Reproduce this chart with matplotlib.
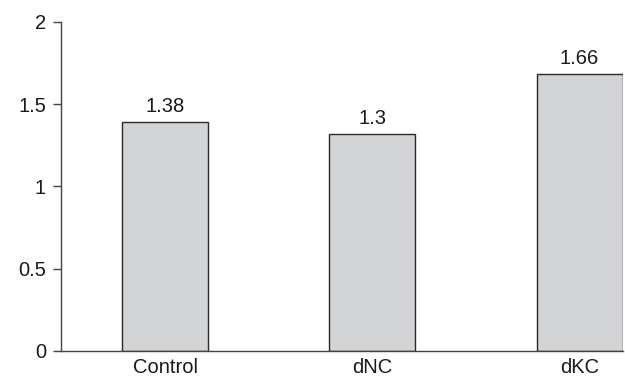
import matplotlib
matplotlib.use("Agg")
import matplotlib.pyplot as plt

categories = ["Control", "dNC", "dKC"]
bar_heights = [1.39, 1.32, 1.685]
value_labels = ["1.38", "1.3", "1.66"]
yticks = [0, 0.5, 1, 1.5, 2]
ytick_labels = ["0", "0.5", "1", "1.5", "2"]

plt.rcParams['font.family'] = ['Liberation Sans', 'DejaVu Sans']
FS = 14.5

fig = plt.figure(figsize=(6.25, 3.77), dpi=100)
ax = fig.add_axes([0.098, 0.069, 0.899, 0.873])

x = range(len(categories))
ax.bar(x, bar_heights, width=0.415, color="#d3d4d6", edgecolor="#2a2a2a", linewidth=1.0, zorder=2)
for xi, h, lab in zip(x, bar_heights, value_labels):
    ax.text(xi, h + 0.035, lab, ha="center", va="bottom", fontsize=FS, color="#1a1a1a")

ax.set_xlim(-0.502, 2.21)
ax.set_ylim(0, 2)
ax.set_yticks(yticks)
ax.set_yticklabels(ytick_labels, fontsize=FS, color="#1a1a1a")
ax.set_xticks(list(x))
ax.set_xticklabels(categories, fontsize=FS, color="#1a1a1a")
ax.tick_params(axis="x", length=0, pad=5)
ax.tick_params(axis="y", length=6, width=1, color="#444444", pad=5)
for s in ["top", "right"]:
    ax.spines[s].set_visible(False)
for s in ["left", "bottom"]:
    ax.spines[s].set_color("#444444")
    ax.spines[s].set_linewidth(1.0)

fig.savefig("out.png", dpi=100)
